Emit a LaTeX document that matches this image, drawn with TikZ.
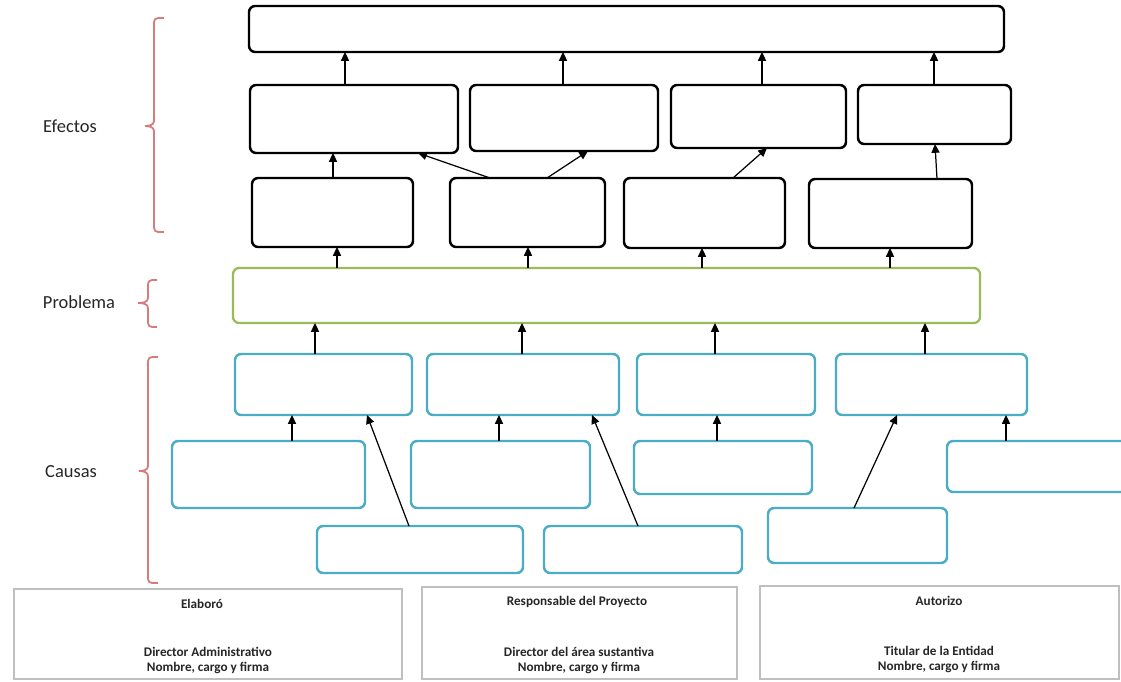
\documentclass[tikz,border=0pt]{standalone}
\usepackage{fontspec}
\setmainfont{Carlito}
\usetikzlibrary{arrows.meta}
\definecolor{cblue}{HTML}{4BACC6}
\definecolor{cgreen}{HTML}{9BBB59}
\definecolor{cred}{HTML}{D77B7B}
\definecolor{cgray}{HTML}{BFBFBF}
\definecolor{ctext}{HTML}{262626}
\newcommand\bx[6]{\node[#1, minimum width={(#4-#2)*0.02cm}, minimum height={(#5-#3)*0.02cm}] (#6) at ({(#2+#4)/2},{(#3+#5)/2}) {};}
\begin{document}
\begin{tikzpicture}[x=0.02cm,y=-0.02cm,
  base/.style={rectangle, rounded corners=3.5pt, inner sep=0pt, outer sep=0pt, fill=white},
  effbox/.style={base, draw=black, line width=1.4pt},
  probbox/.style={base, draw=cgreen, line width=1.3pt},
  causebox/.style={base, draw=cblue, line width=1.4pt},
  signbox/.style={rectangle, inner sep=0pt, outer sep=0pt, draw=cgray, line width=0.7pt},
  conn/.style={draw=black, line width=0.7pt, -{Triangle[length=5pt,width=4.6pt]}},
  brace/.style={draw=cred, line width=1pt},
  lab/.style={text=ctext, font=\fontsize{10.5}{12}\selectfont},
  sign/.style={text=ctext, font=\fontsize{7.5}{9}\selectfont\bfseries, inner sep=0pt}]
\useasboundingbox (0,0) rectangle (1121,681);
\clip (0,0) rectangle (1121,681);
\fill[white] (0,0) rectangle (1121,681);

% Effects
\bx{effbox}{249}{6}{1004}{52}{T}
\bx{effbox}{250}{85}{458}{153}{E1}
\bx{effbox}{470}{85}{658}{151}{E2}
\bx{effbox}{671}{85}{846}{148}{E3}
\bx{effbox}{858}{85}{1011}{144}{E4}
\bx{effbox}{252}{178}{413}{247}{F1}
\bx{effbox}{450}{178}{605}{247}{F2}
\bx{effbox}{624}{178}{785}{248}{F3}
\bx{effbox}{809}{179}{972}{248}{F4}
% Problem
\bx{probbox}{233}{268}{980}{323}{P}
% Causes
\bx{causebox}{235}{354}{412}{415}{C1}
\bx{causebox}{427}{354}{619}{415}{C2}
\bx{causebox}{637}{354}{815}{415}{C3}
\bx{causebox}{836}{354}{1027}{415}{C4}
\bx{causebox}{172}{441}{365}{508}{D1}
\bx{causebox}{411}{441}{590}{508}{D2}
\bx{causebox}{634}{441}{812}{494}{D3}
\bx{causebox}{947}{441}{1160}{492}{D4}
\bx{causebox}{317}{526}{523}{573}{G1}
\bx{causebox}{544}{526}{742}{573}{G2}
\bx{causebox}{768}{508}{947}{563}{G3}

% Connectors: effects
\draw[conn] (E1.north -| 345,0) -- (T.south -| 345,0);
\draw[conn] (E2.north -| 563,0) -- (T.south -| 563,0);
\draw[conn] (E3.north -| 762,0) -- (T.south -| 762,0);
\draw[conn] (E4.north -| 934,0) -- (T.south -| 934,0);
\draw[conn] (F1.north -| 333,0) -- (E1.south -| 333,0);
\draw[conn] (F2.north -| 490,0) -- (E1.south -| 418,0);
\draw[conn] (F2.north -| 547,0) -- (E2.south -| 588,0);
\draw[conn] (F3.north -| 733,0) -- (E3.south -| 767,0);
\draw[conn] (F4.north -| 937,0) -- (E4.south -| 935,0);
\draw[conn] (P.north -| 337,0) -- (F1.south -| 337,0);
\draw[conn] (P.north -| 528,0) -- (F2.south -| 528,0);
\draw[conn] (P.north -| 702,0) -- (F3.south -| 702,0);
\draw[conn] (P.north -| 890,0) -- (F4.south -| 890,0);
% Connectors: causes
\draw[conn] (C1.north -| 315,0) -- (P.south -| 315,0);
\draw[conn] (C2.north -| 522,0) -- (P.south -| 522,0);
\draw[conn] (C3.north -| 715,0) -- (P.south -| 715,0);
\draw[conn] (C4.north -| 925,0) -- (P.south -| 925,0);
\draw[conn] (D1.north -| 292,0) -- (C1.south -| 292,0);
\draw[conn] (G1.north -| 409,0) -- (C1.south -| 367,0);
\draw[conn] (D2.north -| 499,0) -- (C2.south -| 499,0);
\draw[conn] (G2.north -| 638,0) -- (C2.south -| 592,0);
\draw[conn] (D3.north -| 717,0) -- (C3.south -| 717,0);
\draw[conn] (G3.north -| 854,0) -- (C4.south -| 897,0);
\draw[conn] (D4.north -| 1006,0) -- (C4.south -| 1006,0);

% Braces
\draw[brace] (164,18) -- (158,18) to[out=180,in=90] (154,22) -- (154,121)
  to[out=-90,in=0] (145,126) to[out=0,in=90] (154,131) -- (154,228)
  to[out=-90,in=180] (158,232) -- (164,232);
\draw[brace] (157,280) -- (152,280) to[out=180,in=90] (148,284) -- (148,298)
  to[out=-90,in=0] (138,303) to[out=0,in=90] (148,308) -- (148,323)
  to[out=-90,in=180] (152,327) -- (157,327);
\draw[brace] (158,357) -- (152,357) to[out=180,in=90] (148,361) -- (148,466)
  to[out=-90,in=0] (139,471) to[out=0,in=90] (148,476) -- (148,579)
  to[out=-90,in=180] (152,583) -- (158,583);

% Labels
\node[lab] (lEf) at (70,126) {Efectos};
\node[lab] (lPr) at (79,302) {Problema};
\node[lab] (lCa) at (71,472) {Causas};

% Signature boxes
\bx{signbox}{14}{589}{402}{679}{S1}
\bx{signbox}{422}{587}{737}{679}{S2}
\bx{signbox}{760}{586}{1119}{679}{S3}
\node[sign] (s1a) at (202,604) {Elaboró};
\node[sign] (s1b) at (208,652) {Director Administrativo};
\node[sign] (s1c) at (208,668) {Nombre, cargo y firma};
\node[sign] (s2a) at (577,602) {Responsable del Proyecto};
\node[sign] (s2b) at (579,652) {Director del área sustantiva};
\node[sign] (s2c) at (579,668) {Nombre, cargo y firma};
\node[sign] (s3a) at (939,601) {Autorizo};
\node[sign] (s3b) at (939,651) {Titular de la Entidad};
\node[sign] (s3c) at (939,667) {Nombre, cargo y firma};
\end{tikzpicture}
\end{document}
